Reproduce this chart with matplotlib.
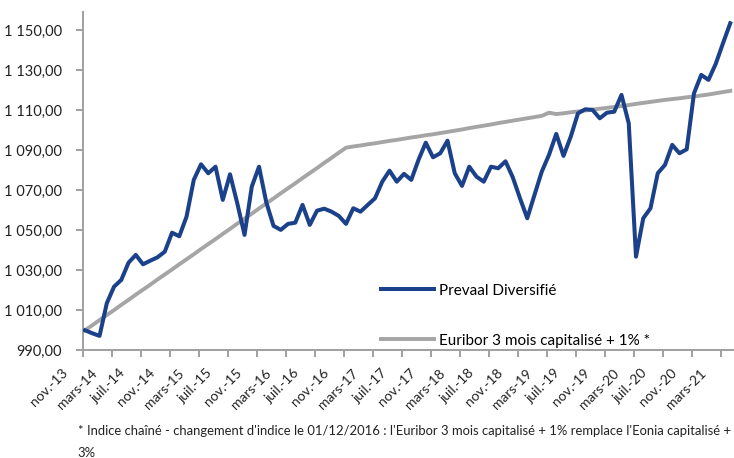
import matplotlib
matplotlib.use("Agg")
import matplotlib.pyplot as plt
import matplotlib.transforms as mtransforms
from matplotlib.ticker import FuncFormatter

plt.rcParams['font.family'] = ['Lato', 'DejaVu Sans']

# ── DONNÉES (mensuel, nov.-13 -> avr.-21) ──
prevaal = [
    1000.0, 998.5, 997.2, 1013.5, 1021.8, 1025.2, 1033.8, 1037.7, 1033.0, 1034.8,
    1036.5, 1039.3, 1048.8, 1047.0, 1056.8, 1075.2, 1083.0, 1078.5, 1081.8, 1065.2,
    1078.0, 1063.5, 1047.7, 1071.8, 1081.8, 1064.0, 1052.2, 1050.2, 1053.2, 1053.8,
    1062.7, 1052.7, 1059.8, 1060.8, 1059.3, 1057.2, 1053.2, 1061.0, 1059.3, 1062.7,
    1066.0, 1074.3, 1079.8, 1074.3, 1078.2, 1075.2, 1085.2, 1093.8, 1086.5, 1088.5,
    1094.8, 1078.5, 1072.2, 1081.8, 1076.8, 1074.3, 1081.8, 1081.0, 1084.5, 1076.5,
    1066.0, 1056.0, 1067.7, 1079.3, 1087.7, 1098.2, 1087.2, 1096.8, 1108.5, 1110.5,
    1110.2, 1106.0, 1108.8, 1109.3, 1117.7, 1103.5, 1036.8, 1056.0, 1061.0, 1078.5,
    1082.7, 1092.7, 1088.5, 1090.5, 1118.5, 1127.7, 1125.2, 1133.2, 1143.5, 1153.5,
]
euribor = [
    1000.0, 1002.5, 1005.1, 1007.6, 1010.1, 1012.7, 1015.2, 1017.8, 1020.3, 1022.8,
    1025.4, 1027.9, 1030.4, 1033.0, 1035.5, 1038.0, 1040.6, 1043.1, 1045.6, 1048.2,
    1050.7, 1053.3, 1055.8, 1058.3, 1060.9, 1063.4, 1065.9, 1068.5, 1071.0, 1073.5,
    1076.1, 1078.6, 1081.1, 1083.7, 1086.2, 1088.8, 1091.3, 1091.9, 1092.4, 1093.0,
    1093.5, 1094.1, 1094.7, 1095.2, 1095.8, 1096.4, 1096.9, 1097.5, 1098.0, 1098.6,
    1099.2, 1099.8, 1100.4, 1101.1, 1101.7, 1102.3, 1102.9, 1103.6, 1104.2, 1104.8,
    1105.4, 1106.0, 1106.6, 1107.2, 1108.8, 1108.1, 1108.5, 1109.0, 1109.4, 1109.9,
    1110.3, 1110.8, 1111.2, 1111.7, 1112.1, 1112.6, 1113.2, 1113.7, 1114.2, 1114.7,
    1115.2, 1115.6, 1116.0, 1116.5, 1116.9, 1117.4, 1117.9, 1118.5, 1119.1, 1119.7,
]
tick_labels = ['nov.-13', 'mars-14', 'juil.-14', 'nov.-14', 'mars-15', 'juil.-15',
               'nov.-15', 'mars-16', 'juil.-16', 'nov.-16', 'mars-17', 'juil.-17',
               'nov.-17', 'mars-18', 'juil.-18', 'nov.-18', 'mars-19', 'juil.-19',
               'nov.-19', 'mars-20', 'juil.-20', 'nov.-20', 'mars-21']
y_ticks = [990, 1010, 1030, 1050, 1070, 1090, 1110, 1130, 1150]

bleu = '#1b418a'
gris = '#a5a5a5'
axe = '#a0a0a0'
texte = '#222222'

fig = plt.figure(figsize=(7.34, 4.58), dpi=100)
ax = fig.add_axes([0.1127, 0.2352, 0.8873, 0.7393])

mois = range(len(prevaal))
ax.plot(mois, prevaal, color=bleu, linewidth=2.9, label='Prevaal Diversifié',
        solid_joinstyle='round', zorder=3)
ax.plot(mois, euribor, color=gris, linewidth=2.8,
        label='Euribor 3 mois capitalisé + 1% *', zorder=2)

ax.set_xlim(-0.32, 89.52)
ax.set_ylim(990, 1159.3)

ax.set_yticks(y_ticks)
ax.yaxis.set_major_formatter(FuncFormatter(
    lambda v, p: f"{v:,.2f}".replace(",", " ").replace(".", ",")))
ax.set_xticks([4 * k - 0.32 for k in range(len(tick_labels))])
ax.set_xticklabels(tick_labels, rotation=45, ha='right', va='center',
                   rotation_mode='anchor')

for s in ['top', 'right']:
    ax.spines[s].set_visible(False)
for s in ['left', 'bottom']:
    ax.spines[s].set_color(axe)
    ax.spines[s].set_linewidth(1.4)
ax.tick_params(axis='both', colors=axe, length=5, width=1.4, labelcolor=texte)
ax.tick_params(axis='y', pad=10, labelsize=10.5)
ax.tick_params(axis='x', pad=2, labelsize=10)

# décalage des libellés de mois (comme Excel)
decal = mtransforms.ScaledTranslation(-0.17, -0.11, fig.dpi_scale_trans)
for lab in ax.get_xticklabels():
    lab.set_transform(lab.get_transform() + decal)

ax.legend(loc='upper left', bbox_to_anchor=(0.508, 0.397), bbox_transform=fig.transFigure,
          frameon=False, fontsize=11, handlelength=3.5, handletextpad=0.3,
          borderpad=0, labelspacing=2.35)

fig.text(0.106, 0.0502, "* Indice chaîné - changement d'indice le 01/12/2016 : l'Euribor 3 mois "
         "capitalisé + 1% remplace l'Eonia capitalisé +", fontsize=9.4,
         color=texte, va='baseline')
fig.text(0.106, 0.003, "3%", fontsize=9.4, color=texte, va='baseline')

plt.savefig('out.png', dpi=100)
